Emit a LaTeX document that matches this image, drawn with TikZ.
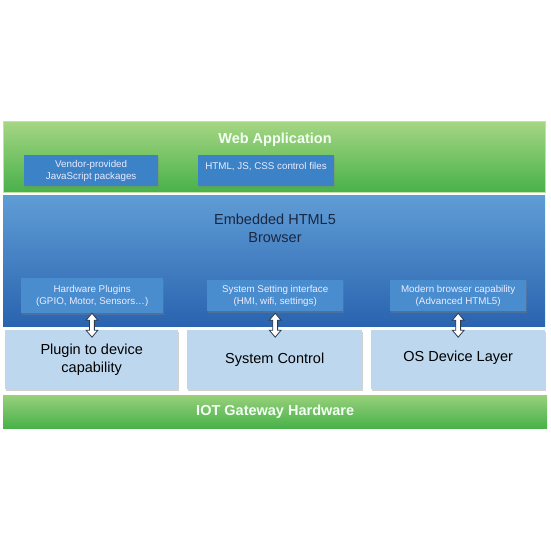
\documentclass[tikz,border=0pt]{standalone}
\usepackage{fontspec}
\setmainfont{Liberation Sans}
\usetikzlibrary{shapes.arrows,shadows,calc}
\definecolor{gtop}{HTML}{A6D683}
\definecolor{gbot}{HTML}{48B14A}
\definecolor{btop}{HTML}{5F9DD6}
\definecolor{bbot}{HTML}{2A63AF}
\definecolor{innergreen}{HTML}{3B83C6}
\definecolor{innerblue}{HTML}{4A8DCF}
\definecolor{lightbox}{HTML}{BDD7EE}
\definecolor{darktext}{HTML}{1A2740}
\definecolor{arrowline}{HTML}{2F3A4A}
\tikzset{
  band/.style={rectangle, inner sep=0pt, anchor=north west},
  shad/.style={drop shadow={opacity=0.35, shadow xshift=0.8pt, shadow yshift=-1.5pt}},
  vbox/.style={rectangle, inner sep=0pt, anchor=north west, fill=innergreen, shad},
  pbox/.style={rectangle, inner sep=0pt, anchor=north west, fill=innerblue, shad},
  lbox/.style={rectangle, inner sep=0pt, anchor=north west, fill=lightbox, shad},
  smalltxt/.style={align=center, text=white!92!blue, font=\fontsize{9.8}{12}\selectfont},
  bigtxt/.style={align=center, font=\fontsize{14.5}{18}\selectfont},
  darr/.style={double arrow, rotate=90, draw=arrowline, fill=white, line width=0.8pt,
    minimum height=24pt, minimum width=11pt, inner sep=2pt, double arrow head extend=3.5pt,
    double arrow tip angle=80}
}
\begin{document}
\begin{tikzpicture}[x=1pt,y=-1pt]
\useasboundingbox (0,0) rectangle (550,550);
\fill[white] (0,0) rectangle (550,550);
% top green band
\node[band, top color=gtop, bottom color=gbot, minimum width=542pt, minimum height=71pt, draw=gtop!70!white, line width=0.4pt] (web) at (3,121) {};
\node[font=\fontsize{14.5}{16}\bfseries\selectfont, text=white!95!green] (webt) at (275,140) {Web Application};
\node[vbox, minimum width=134pt, minimum height=31pt] (vend) at (24,155) {};
\node[smalltxt] (vendt) at (vend.center) {Vendor-provided\\JavaScript packages};
\node[vbox, minimum width=136pt, minimum height=31pt] (html) at (198,155) {};
\node[smalltxt] (htmlt) at (266,167) {HTML, JS, CSS control files};
% blue band
\node[band, top color=btop, bottom color=bbot, minimum width=542pt, minimum height=131pt] (browser) at (3,195) {};
\node[align=center, text=darktext, font=\fontsize{14.5}{18}\selectfont] (browt) at (275,228) {Embedded HTML5\\Browser};
\node[pbox, minimum width=142pt, minimum height=35pt] (hw) at (21,278) {};
\node[smalltxt] (hwt) at (hw.center) {Hardware Plugins\\(GPIO, Motor, Sensors…)};
\node[pbox, minimum width=136pt, minimum height=31pt] (sys) at (207,280) {};
\node[smalltxt] (syst) at (sys.center) {System Setting interface\\(HMI, wifi, settings)};
\node[pbox, minimum width=136pt, minimum height=31pt] (mod) at (390,280) {};
\node[smalltxt] (modt) at (mod.center) {Modern browser capability\\(Advanced HTML5)};
% light boxes
\node[lbox, minimum width=173pt, minimum height=59pt] (plug) at (5,330) {};
\node[bigtxt] (plugt) at (plug.center) {Plugin to device\\capability};
\node[lbox, minimum width=175pt, minimum height=59pt] (ctrl) at (187,330) {};
\node[bigtxt] (ctrlt) at (ctrl.center) {System Control};
\node[lbox, minimum width=174pt, minimum height=59pt] (os) at (371,330) {};
\node[bigtxt] (ost) at ($(os.center)+(0,-2)$) {OS Device Layer};
% bottom green
\node[band, top color=gtop!85!gbot, bottom color=gbot, minimum width=544pt, minimum height=33pt] (iot) at (3,395) {};
\node[font=\fontsize{14.5}{16}\bfseries\selectfont, text=white!95!green] (iott) at (iot.center) {IOT Gateway Hardware};
% double arrows
\node[darr] (a1) at ($(hw.south)!0.5!(plug.north)+(0,3.5)$) {};
\node[darr] (a2) at (sys.south |- a1) {};
\node[darr] (a3) at (mod.south |- a1) {};
\end{tikzpicture}
\end{document}
